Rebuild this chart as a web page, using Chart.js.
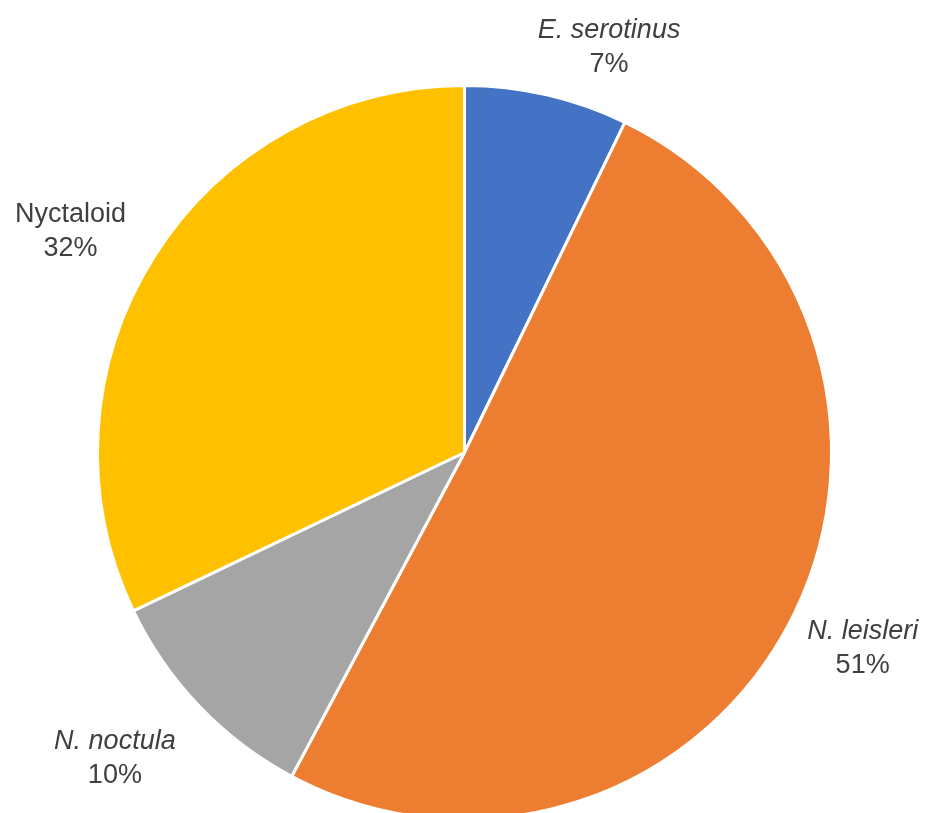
<!DOCTYPE html>
<html>
<head>
<meta charset="utf-8">
<script src="https://cdn.jsdelivr.net/npm/chart.js@4.4.0/dist/chart.umd.min.js"></script>
<style>
  html, body { margin: 0; padding: 0; background: #fff; overflow: hidden; }
  #wrap { width: 937px; height: 813px; overflow: hidden; }
</style>
</head>
<body>
<div id="wrap"><canvas id="myChart" width="937" height="830"></canvas></div>
<script>
  'use strict'

  const labels = ['E. serotinus', 'N. leisleri', 'N. noctula', 'Nyctaloid'];
  const values = [7.2, 50.6, 10.1, 32.1];
  const percentLabels = ['7%', '51%', '10%', '32%'];
  const italicLabels = [true, true, true, false];
  const colors = ['#4472C4', '#ED7D31', '#A5A5A5', '#FFC000'];

  // label placement: distance from centre (as multiple of radius) and angle nudge (deg)
  const labelPlace = [
    { k: 1.177, nudge: 6.6 },
    { k: 1.207, nudge: -1 },
    { k: 1.263, nudge: 2.7 },
    { k: 1.234, nudge: -2.7 }
  ];

  const outsideLabels = {
    id: 'outsideLabels',
    afterDatasetsDraw(chart) {
      const ctx = chart.ctx;
      const meta = chart.getDatasetMeta(0);
      ctx.save();
      ctx.fillStyle = '#404040';
      ctx.textAlign = 'center';
      ctx.textBaseline = 'middle';
      meta.data.forEach(function (arc, i) {
        const mid = (arc.startAngle + arc.endAngle) / 2 + labelPlace[i].nudge * Math.PI / 180;
        const r = arc.outerRadius * labelPlace[i].k;
        const x = arc.x + Math.cos(mid) * r;
        const y = arc.y + Math.sin(mid) * r + 2;
        ctx.font = (italicLabels[i] ? 'italic ' : '') + '27px "Liberation Sans", Arial, sans-serif';
        ctx.fillText(labels[i], x, y - 17);
        ctx.font = '27px "Liberation Sans", Arial, sans-serif';
        ctx.fillText(percentLabels[i], x, y + 17);
      });
      ctx.restore();
    }
  };

  var ctx = document.getElementById('myChart');
  var myChart = new Chart(ctx, {
    type: 'pie',
    data: {
      labels: labels,
      datasets: [{
        data: values,
        backgroundColor: colors,
        borderColor: '#ffffff',
        borderWidth: 3
      }]
    },
    options: {
      responsive: false,
      animation: false,
      layout: {
        padding: { top: 84, bottom: 9, left: 96, right: 104 }
      },
      plugins: {
        legend: { display: false },
        tooltip: { enabled: false }
      }
    },
    plugins: [outsideLabels]
  });
</script>
</body>
</html>
